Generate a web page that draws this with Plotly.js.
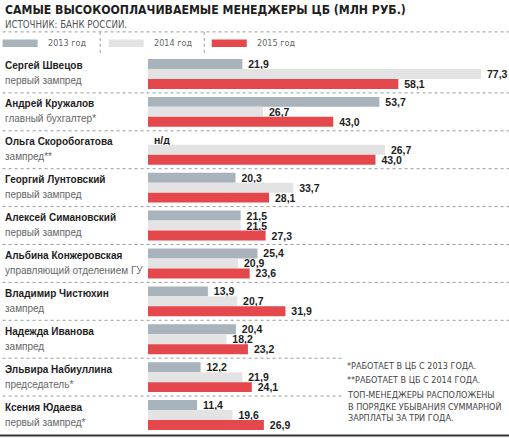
<!DOCTYPE html>
<html>
<head>
<meta charset="utf-8">
<script src="https://cdn.plot.ly/plotly-3.0.1.min.js"></script>
<style>html,body{margin:0;padding:0;background:#fff;}#chart{width:509px;height:438px;}</style>
</head>
<body>
<div id="chart"></div>
<script>
// ---- data ----
const names = ["Сергей Швецов","Андрей Кружалов","Ольга Скоробогатова","Георгий Лунтовский","Алексей Симановский","Альбина Конжеровская","Владимир Чистюхин","Надежда Иванова","Эльвира Набиуллина","Ксения Юдаева"];
const roles = ["первый зампред","главный бухгалтер*","зампред**","первый зампред","первый зампред","управляющий отделением ГУ","зампред","зампред","председатель*","первый зампред*"];
const years = ["2013 год","2014 год","2015 год"];
const v2013 = [21.9, 53.7, 0, 20.3, 21.5, 25.4, 13.9, 20.4, 12.2, 11.4];
const v2014 = [77.3, 26.7, 55.0, 33.7, 21.5, 20.9, 20.7, 18.2, 21.9, 19.6];
const v2015 = [58.1, 43.0, 52.8, 28.1, 27.3, 23.6, 31.9, 23.2, 24.1, 26.9];
const t2013 = ["21,9","53,7","н/д","20,3","21,5","25,4","13,9","20,4","12,2","11,4"];
const t2014 = ["77,3","26,7","26,7","33,7","21,5","20,9","20,7","18,2","21,9","19,6"];
const t2015 = ["58,1","43,0","43,0","28,1","27,3","23,6","31,9","23,2","24,1","26,9"];
const colors = ["#a8b3bb","#e3e3e3","#e5484c"];
const titleText = "САМЫЕ ВЫСОКООПЛАЧИВАЕМЫЕ МЕНЕДЖЕРЫ ЦБ (МЛН РУБ.)";
const sourceText = "ИСТОЧНИК: БАНК РОССИИ.";
const notes = ["*РАБОТАЕТ В ЦБ С 2013 ГОДА.","**РАБОТАЕТ В ЦБ С 2014 ГОДА.","ТОП-МЕНЕДЖЕРЫ РАСПОЛОЖЕНЫ<br>В ПОРЯДКЕ УБЫВАНИЯ СУММАРНОЙ<br>ЗАРПЛАТЫ ЗА ТРИ ГОДА."];

// ---- geometry ----
const WID = 509, HEI = 438;
const L = 148.3, R = 0, T = 54.6, B = 4.4;
const PW = WID - L - R, PH = HEI - T - B;
const pxPerUnit = 4.305;
const px = x => (x - L) / PW;
const py = y => 1 - (y - T) / PH;

const NARROW = "'Liberation Sans Narrow', 'DejaVu Sans Condensed', 'Liberation Sans', sans-serif";
const SANS = "'Liberation Sans', Arial, sans-serif";

const vals = [v2013, v2014, v2015];
const texts = [t2013, t2014, t2015];
const traces = vals.map((v, i) => ({
  type: "bar", orientation: "h",
  y: names, x: v, name: years[i],
  marker: {color: colors[i], line: {width: 0}},
  text: texts[i].map(s => "\u00a0" + s),
  textposition: "outside",
  constraintext: "none",
  cliponaxis: false,
  textfont: {family: SANS, size: 10.5, color: "#1e1e1e", weight: "bold"},
  hoverinfo: "none",
  showlegend: false
}));

const shapes = [];
const annotations = [];
const dot = {color: "#9a9a9a", width: 1, dash: "dot"};

// legend frame
shapes.push({type: "line", xref: "paper", yref: "paper", x0: px(3), x1: px(509), y0: py(31.5), y1: py(31.5), line: dot});
const legX = [3, 109, 212];
years.forEach((yname, i) => {
  shapes.push({type: "rect", xref: "paper", yref: "paper", x0: px(legX[i]), x1: px(legX[i] + 35), y0: py(39), y1: py(46.5), fillcolor: colors[i], line: {width: 0}});
  annotations.push({xref: "paper", yref: "paper", x: px(legX[i] + 43), y: py(43), xanchor: "left", yanchor: "middle", showarrow: false, text: yname, font: {family: NARROW, size: 9, color: "#666"}});
});
[100.5, 204.5].forEach(x => shapes.push({type: "line", xref: "paper", yref: "paper", x0: px(x), x1: px(x), y0: py(31.5), y1: py(53), line: dot}));

// row separators
for (let k = 1; k < names.length; k++) {
  const xEnd = k >= 8 ? 342 : 509;
  shapes.push({type: "line", xref: "paper", yref: "y", x0: px(3), x1: px(xEnd), y0: k - 0.5, y1: k - 0.5, line: dot});
}
// bottom rule
shapes.push({type: "line", xref: "paper", yref: "paper", x0: px(0), x1: px(509), y0: py(435), y1: py(435), line: {color: "#333", width: 2}});

// names / roles
names.forEach((n, i) => {
  annotations.push({xref: "paper", yref: "y", x: px(3), y: n, yshift: 8, xanchor: "left", yanchor: "middle", showarrow: false, text: "<b>" + n + "</b>", font: {family: SANS, size: 10, color: "#1e1e1e"}});
  annotations.push({xref: "paper", yref: "y", x: px(3), y: n, yshift: -7, xanchor: "left", yanchor: "middle", showarrow: false, text: roles[i], font: {family: SANS, size: 10, color: "#666"}});
});

// title / source
annotations.push({xref: "paper", yref: "paper", x: px(3), y: py(9.5), xanchor: "left", yanchor: "middle", showarrow: false, text: "<b>" + titleText + "</b>", font: {family: NARROW, size: 12.2, color: "#1e1e1e"}});
annotations.push({xref: "paper", yref: "paper", x: px(3), y: py(24), xanchor: "left", yanchor: "middle", showarrow: false, text: sourceText, font: {family: NARROW, size: 9.6, color: "#555"}});

// notes
annotations.push({xref: "paper", yref: "paper", x: px(345), y: py(366), xanchor: "left", yanchor: "middle", showarrow: false, text: notes[0], font: {family: NARROW, size: 9, color: "#444"}});
annotations.push({xref: "paper", yref: "paper", x: px(345), y: py(380), xanchor: "left", yanchor: "middle", showarrow: false, text: notes[1], font: {family: NARROW, size: 9, color: "#444"}});
annotations.push({xref: "paper", yref: "paper", x: px(345), y: py(406), xanchor: "left", yanchor: "middle", align: "left", showarrow: false, text: notes[2], font: {family: NARROW, size: 9, color: "#444"}});

const layout = {
  width: WID, height: HEI,
  margin: {l: L, r: R, t: T, b: B, pad: 0},
  paper_bgcolor: "#fff", plot_bgcolor: "#fff",
  barmode: "group", bargap: 0.21, bargroupgap: 0,
  showlegend: false,
  xaxis: {range: [0, PW / pxPerUnit], visible: false, fixedrange: true},
  yaxis: {type: "category", autorange: "reversed", visible: false, fixedrange: true},
  shapes: shapes, annotations: annotations,
  font: {family: SANS}
};

Plotly.newPlot("chart", traces, layout, {staticPlot: true, displayModeBar: false});
</script>
</body>
</html>
